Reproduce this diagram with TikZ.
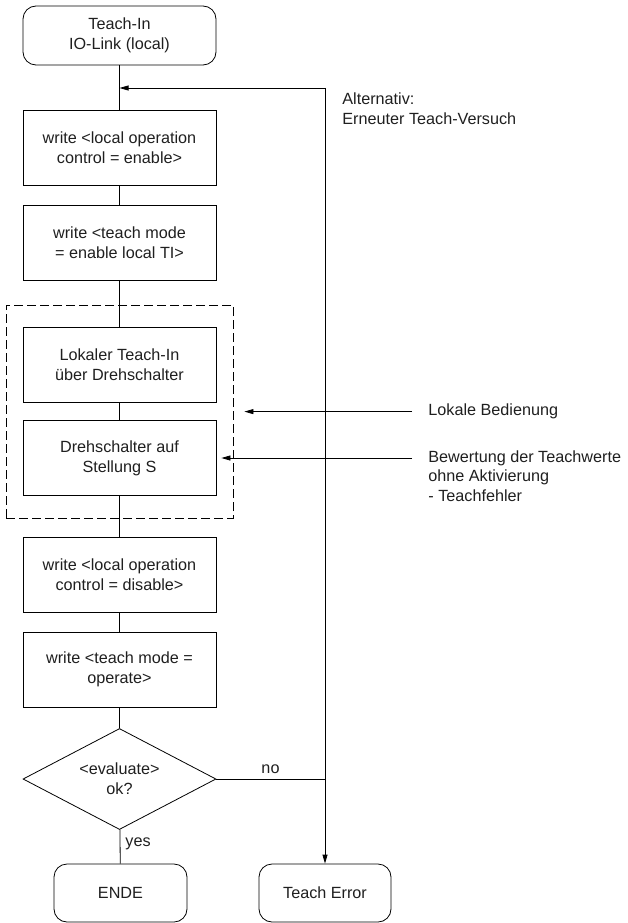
\documentclass[tikz,border=0pt]{standalone}
\usepackage{fontspec}
\setmainfont{Liberation Sans}
\usetikzlibrary{shapes.geometric,arrows.meta}

\begin{document}
\begin{tikzpicture}[x=1pt,y=-1pt,line width=0.8pt,
  txt/.style={font=\fontsize{16.2}{19.8}\selectfont,text=black!88},
  stepbox/.style={txt,draw,minimum width=193pt,minimum height=75pt,align=center,inner sep=0pt},
  term/.style={txt,draw,rounded corners=13pt,minimum height=58pt,align=center,inner sep=0pt},
  decision/.style={txt,draw,diamond,aspect=1.9,minimum width=193pt,minimum height=101pt,align=center,inner sep=0pt},
  grpbox/.style={draw,dash pattern=on 9pt off 4pt,minimum width=227pt,minimum height=213pt,inner sep=0pt},
  lbl/.style={txt,inner sep=0pt,align=left},
  arr/.style={-{Triangle[length=9pt,width=5pt]}}]
\useasboundingbox (0,0) rectangle (628,923);

% main column
\node[term,minimum width=193pt,minimum height=59pt] (start) at (119.5,35.5) {Teach-In\\IO-Link (local)};
\node[stepbox] (b1) at (119.5,147.5) {write <local operation\\control = enable>};
\node[stepbox] (b2) at (119.5,242.5) {write <teach mode\\= enable local TI>};
\node[grpbox] (grp) at (119.5,411.5) {};
\node[stepbox] (b3) at (119.5,365) {Lokaler Teach-In\\über Drehschalter};
\node[stepbox] (b4) at (119.5,458) {Drehschalter auf\\Stellung S};
\node[stepbox] (b5) at (119.5,574.5) {write <local operation\\control = disable>};
\node[stepbox] (b6) at (119.5,669.5) {write <teach mode =\\operate>};
\node[decision] (dec) at (119.5,779) {<evaluate>\\ok?};
\node[term,minimum width=133pt] (ende) at (120.5,893) {ENDE};
\node[term,minimum width=132pt] (err) at (325,893) {Teach Error};

% side labels
\node[lbl,anchor=west] (alt) at (342,108.9) {Alternativ:\\Erneuter Teach-Versuch};
\node[lbl,anchor=west] (lok) at (428,411.6) {Lokale Bedienung};
\node[lbl,anchor=north west] (bew) at (428,450) {Bewertung der Teachwerte\\ohne Aktivierung\\- Teachfehler};
\node[lbl] (no) at (270.5,769) {no};
\node[lbl,anchor=west] (yes) at (125,844) {yes};

% flow
\draw (start) -- (b1);
\draw (b1) -- (b2);
\draw (b2) -- (b3);
\draw (b3) -- (b4);
\draw (b4) -- (b5);
\draw (b5) -- (b6);
\draw (b6) -- (dec);
\draw (dec) -- (ende);

% retry loop and error branch
\coordinate (loop) at (err.north |- 0,88);
\draw (dec.east) -- (dec.east -| err.north);
\draw[arr] (loop) -- (err.north);
\draw[arr] (loop) -- (start.south |- loop);

% local operation inputs
\draw[arr] ([xshift=-16pt]lok.west) -- ([xshift=11pt]grp.east |- lok.west);
\coordinate (bewIn) at (412,458);
\draw[arr] (bewIn) -- ([xshift=5pt]b4.east |- bewIn);
\end{tikzpicture}
\end{document}
